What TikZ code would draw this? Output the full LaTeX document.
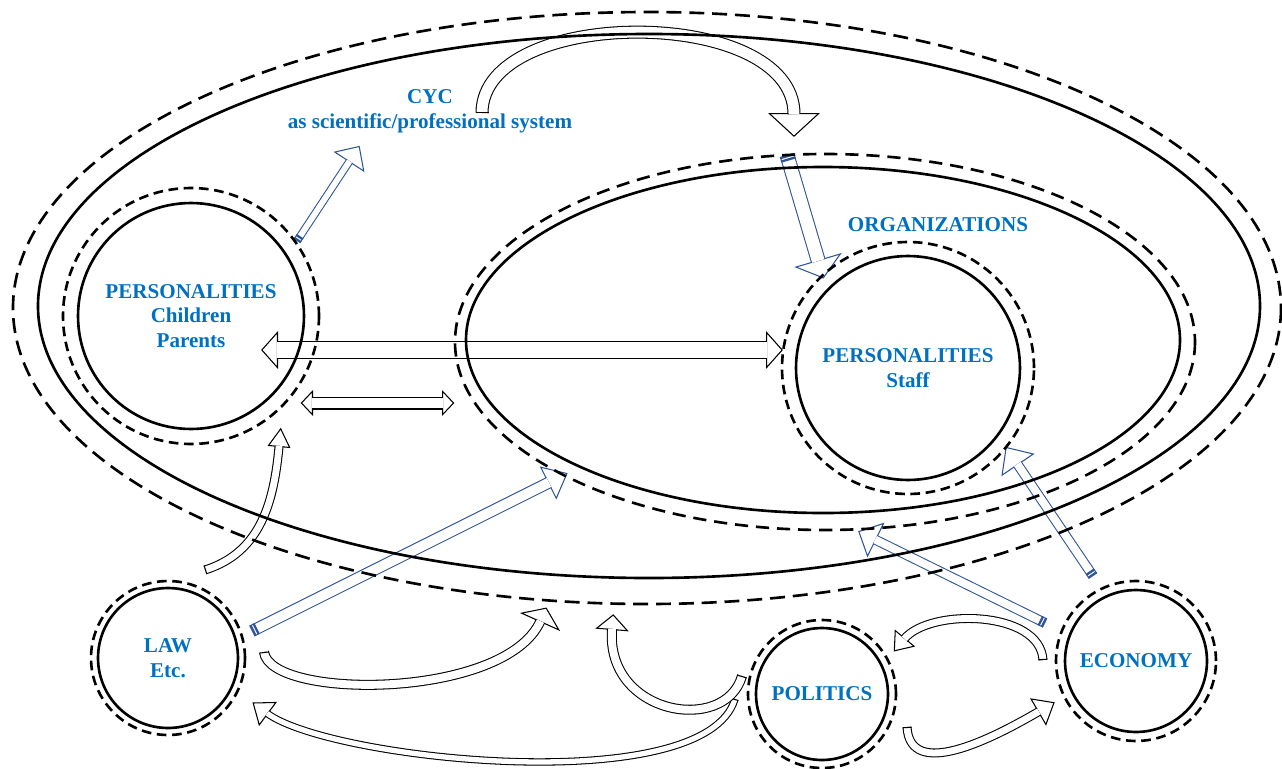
\documentclass[tikz,border=0pt]{standalone}
\usepackage{fontspec}
\setmainfont{Liberation Serif}
\usetikzlibrary{arrows.meta,calc}
\definecolor{txtblue}{RGB}{0,112,192}
\definecolor{arrblue}{RGB}{47,85,151}

\begin{document}
\begin{tikzpicture}[x=0.02cm, y=-0.02cm]
    \tikzstyle{ring} = [circle, draw, line width=1.5pt, inner sep=0pt, text=txtblue, align=center, font=\fontsize{12}{14}\selectfont\bfseries]
    \tikzstyle{rim} = [circle, draw, line width=1.5pt, inner sep=0pt, dash pattern=on 5.5pt off 3.2pt]
    \tikzstyle{bigrim} = [line width=1.5pt, dash pattern=on 8.5pt off 4.5pt]
    \tikzstyle{bigline} = [line width=1.5pt]
    \tikzstyle{bluetext} = [text=txtblue, align=center, font=\fontsize{12}{14}\selectfont\bfseries]
    \tikzstyle{arrowhead} = [draw=black, line width=0.6pt]
    \tikzstyle{arrowshaft} = [draw=black, line width=0.6pt, double=white, shorten >=-0.6pt]
    \tikzstyle{bluehead} = [draw=arrblue, line width=0.6pt]
    \tikzstyle{blueshaft} = [draw=arrblue, line width=0.6pt, double=white, shorten >=-0.6pt]

    \useasboundingbox (0,0) rectangle (1282,768);

    % free ends of the arrows
    \coordinate (archT) at (482,113);  \coordinate (archB) at (794,113);
    \coordinate (upT) at (205,570);    \coordinate (upB) at (279,447);
    \coordinate (lawT) at (264,652);   \coordinate (lawB) at (540,622);
    \coordinate (polT) at (735,699);   \coordinate (polB) at (268,714);
    \coordinate (pol2T) at (742,676);  \coordinate (pol2B) at (612,630);
    \coordinate (ecoT) at (1043,660);  \coordinate (ecoB) at (905,638);
    \coordinate (pecT) at (907,727);   \coordinate (pecB) at (1038,712);
    \coordinate (wideL) at (278,350);  \coordinate (wideR) at (766,350);
    \coordinate (shortL) at (313,403); \coordinate (shortR) at (442,403);
    \coordinate (b1T) at (297,241);    \coordinate (b1B) at (349,162);
    \coordinate (b2T) at (787,155);    \coordinate (b2B) at (818,260);
    \coordinate (b3T) at (252,631);    \coordinate (b3B) at (548,483);
    \coordinate (b4T) at (1093,576);   \coordinate (b4B) at (1018,465);
    \coordinate (b5T) at (1045,623);   \coordinate (b5B) at (876,540);

    % hollow black arrows
    \draw[arrowhead, -{Triangle[length=13.6pt, width=29.5pt, fill=white]}] ($(archB)!2pt!(794,5)$) -- ($(archB)!-13.6pt!(794,5)$);
    \draw[arrowshaft, double distance=6.2pt] (archT) .. controls (482,5) and (794,5) .. (archB);
    \draw[line width=7.4pt] (archT) -- ($(archT)!0.6pt!(482,5)$);

    \draw[arrowhead, -{Triangle[length=11pt, width=13pt, fill=white]}] ($(upB)!2pt!(274,500)$) -- ($(upB)!-11pt!(274,500)$);
    \draw[arrowshaft, double distance=3.9pt] (upT) .. controls (262,552) and (274,500) .. (upB);
    \draw[line width=5.1pt] (upT) -- ($(upT)!0.6pt!(262,552)$);

    \draw[arrowhead, -{Triangle[length=9pt, width=25pt, fill=white]}] ($(lawB)!2pt!(505,700)$) -- ($(lawB)!-9pt!(505,700)$);
    \draw[arrowshaft, double distance=4.5pt] (lawT) .. controls (270,700) and (505,700) .. (lawB);
    \draw[line width=5.7pt] (lawT) -- ($(lawT)!0.6pt!(270,700)$);

    \draw[arrowhead, -{Triangle[length=11pt, width=17pt, fill=white]}] ($(polB)!2pt!(330,760)$) -- ($(polB)!-11pt!(330,760)$);
    \draw[arrowshaft, double distance=3pt] (polT) .. controls (705,800) and (330,760) .. (polB);
    \draw[line width=4.2pt] (polT) -- ($(polT)!0.6pt!(705,800)$);

    \draw[arrowhead, -{Triangle[length=9pt, width=19pt, fill=white]}] ($(pol2B)!2pt!(605,715)$) -- ($(pol2B)!-9pt!(605,715)$);
    \draw[arrowshaft, double distance=4.5pt] (pol2T) .. controls (725,735) and (605,715) .. (pol2B);
    \draw[line width=5.7pt] (pol2T) -- ($(pol2T)!0.6pt!(725,735)$);

    \draw[arrowhead, -{Triangle[length=10pt, width=15pt, fill=white]}] ($(ecoB)!2pt!(930,608)$) -- ($(ecoB)!-10pt!(930,608)$);
    \draw[arrowshaft, double distance=3.9pt] (ecoT) .. controls (1040,610) and (930,608) .. (ecoB);
    \draw[line width=5.1pt] (ecoT) -- ($(ecoT)!0.6pt!(1040,610)$);

    \draw[arrowhead, -{Triangle[length=11pt, width=18pt, fill=white]}] ($(pecB)!2pt!(990,740)$) -- ($(pecB)!-11pt!(990,740)$);
    \draw[arrowshaft, double distance=3.9pt] (pecT) .. controls (910,780) and (990,740) .. (pecB);
    \draw[line width=5.1pt] (pecT) -- ($(pecT)!0.6pt!(910,780)$);

    \draw[arrowhead, {Triangle[length=9.6pt, width=21.5pt, fill=white]}-{Triangle[length=9.6pt, width=21.5pt, fill=white]}] ($(wideL)!-9.6pt!(wideR)$) -- ($(wideR)!-9.6pt!(wideL)$);
    \draw[arrowshaft, double distance=9pt, shorten <=-0.6pt] (wideL) -- (wideR);
    \draw[arrowhead, {Triangle[length=7pt, width=14.7pt, fill=white]}-{Triangle[length=7pt, width=14.7pt, fill=white]}] ($(shortL)!-7pt!(shortR)$) -- ($(shortR)!-7pt!(shortL)$);
    \draw[arrowshaft, double distance=6.2pt, shorten <=-0.6pt] (shortL) -- (shortR);

    % hollow blue arrows
    \draw[bluehead, -{Triangle[length=11pt, width=21pt, fill=white]}] ($(b1B)!2pt!(b1T)$) -- ($(b1B)!-11pt!(b1T)$);
    \draw[blueshaft, double distance=3.3pt] (b1T) -- (b1B);
    \draw[arrblue, line width=4.5pt, dash pattern=on 1.3pt off 0.7pt on 1.3pt off 20pt] (b1T) -- ($(b1T)!3.3pt!(b1B)$);

    \draw[bluehead, -{Triangle[length=11pt, width=28pt, fill=white]}] ($(b2B)!2pt!(b2T)$) -- ($(b2B)!-11pt!(b2T)$);
    \draw[blueshaft, double distance=7.3pt] (b2T) -- (b2B);
    \draw[arrblue, line width=8.5pt, dash pattern=on 1.3pt off 0.7pt on 1.3pt off 20pt] (b2T) -- ($(b2T)!3.3pt!(b2B)$);

    \draw[bluehead, -{Triangle[length=12.5pt, width=21pt, fill=white]}] ($(b3B)!2pt!(b3T)$) -- ($(b3B)!-12.5pt!(b3T)$);
    \draw[blueshaft, double distance=5.6pt] (b3T) -- (b3B);
    \draw[arrblue, line width=6.8pt, dash pattern=on 1.3pt off 0.7pt on 1.3pt off 20pt] (b3T) -- ($(b3T)!3.3pt!(b3B)$);

    \draw[bluehead, -{Triangle[length=12.5pt, width=22.7pt, fill=white]}] ($(b4B)!2pt!(b4T)$) -- ($(b4B)!-12.5pt!(b4T)$);
    \draw[blueshaft, double distance=4.5pt] (b4T) -- (b4B);
    \draw[arrblue, line width=5.7pt, dash pattern=on 1.3pt off 0.7pt on 1.3pt off 20pt] (b4T) -- ($(b4T)!3.3pt!(b4B)$);

    \draw[bluehead, -{Triangle[length=11.3pt, width=22pt, fill=white]}] ($(b5B)!2pt!(b5T)$) -- ($(b5B)!-11.3pt!(b5T)$);
    \draw[blueshaft, double distance=4.5pt] (b5T) -- (b5B);
    \draw[arrblue, line width=5.7pt, dash pattern=on 1.3pt off 0.7pt on 1.3pt off 20pt] (b5T) -- ($(b5T)!3.3pt!(b5B)$);

    % systems (ellipses)
    \draw[bigrim] (647,308) ellipse (634 and 296);
    \draw[bigline] (649,306) ellipse (611 and 272);
    \draw[bigrim, dash pattern=on 7.5pt off 4.5pt] (825,342) ellipse (370 and 188);
    \draw[bigline] (823,340) ellipse (357 and 173);

    % personalities and environment
    \node[ring, minimum size=4.52cm] (kids) at (191,316) {PERSONALITIES\\Children\\Parents};
    \node[rim, minimum size=5.12cm] (kidsrim) at (191,316) {};
    \node[ring, minimum size=4.48cm] (staff) at (908,368) {PERSONALITIES\\Staff};
    \node[rim, minimum size=5.04cm] (staffrim) at (908,368) {};
    \node[ring, minimum size=2.8cm] (law) at (168,658) {LAW\\Etc.};
    \node[rim, minimum size=3.08cm] (lawrim) at (168,658) {};
    \node[ring, minimum size=2.64cm] (politics) at (822,694) {POLITICS};
    \node[rim, minimum size=2.96cm] (politicsrim) at (822,694) {};
    \node[ring, minimum size=2.84cm] (economy) at (1136,661) {ECONOMY};
    \node[rim, minimum size=3.2cm] (economyrim) at (1136,661) {};

    \node[bluetext] (cyc) at (430,111) {CYC\\as scientific/professional system};
    \node[bluetext] (org) at (938,225) {ORGANIZATIONS};
\end{tikzpicture}
\end{document}
